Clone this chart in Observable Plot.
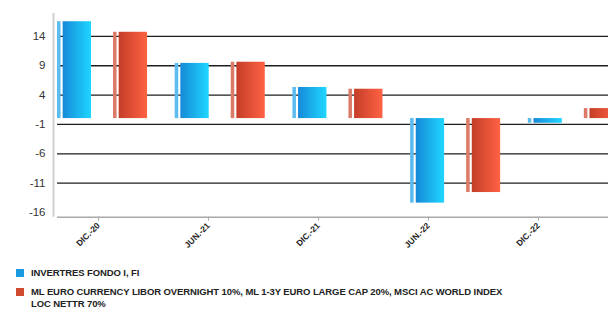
<!DOCTYPE html>
<html>
<head>
<meta charset="utf-8">
<script src="https://cdn.jsdelivr.net/npm/d3@7"></script>
<script src="https://cdn.jsdelivr.net/npm/@observablehq/plot@0.6"></script>
<style>
  html, body { margin: 0; padding: 0; background: #fff; overflow: hidden; width: 608px; height: 309px; }
  #chart svg { display: block; max-width: none; }
  .legend { margin: 7px 0 0 16px; font-family: "Liberation Sans", Arial, sans-serif; font-weight: bold; font-size: 9.5px; color: #222; letter-spacing: -0.1px; }
  .item { display: flex; align-items: flex-start; margin-bottom: 9px; }
  .sw { width: 8px; height: 8px; flex: none; margin-right: 7px; margin-top: 0px; }
  .lab { width: 475px; line-height: 12px; margin-top: -2px; }
</style>
</head>
<body>
<div id="chart"></div>
<div class="legend" id="legend"></div>
<script>
// ---- data ----
const dates = ["DIC.-20", "JUN.-21", "DIC.-21", "JUN.-22", "DIC.-22"];
const fondo = [16.5, 9.4, 5.3, -14.4, -0.8];
const indice = [14.7, 9.6, 5.0, -12.6, 1.7];
const seriesNames = [
  "INVERTRES FONDO I, FI",
  "ML EURO CURRENCY LIBOR OVERNIGHT 10%, ML 1-3Y EURO LARGE CAP 20%, MSCI AC WORLD INDEX LOC NETTR 70%"
];
const yTicks = [14, 9, 4, -1, -6, -11, -16];

// ---- layout ----
const W = 608, H = 262;
const yDomain = [-16.8, 17.9];
const barOff = [0.034, 0.51];   // start of each series bar within a group slot
const stripW = 0.03, gapW = 0.048, barW = 0.289;
const tickStart = 0.382, tickStep = 0.9346;
const gradIds = ["gBlue", "gRed"];
const stripCols = ["#5cbcf0", "#dc7a68"];
const swatchCols = ["#1a9ae0", "#d04a30"];

const rows = [];
dates.forEach((d, i) => {
  rows.push({i, s: 0, date: d, value: fondo[i]});
  rows.push({i, s: 1, date: d, value: indice[i]});
});
const xTicks = dates.map((d, k) => tickStart + tickStep * k);
const tickLabel = new Map(xTicks.map((t, k) => [t, dates[k]]));

const plot = Plot.plot({
  width: W,
  height: H,
  marginTop: 13,
  marginBottom: H - 216.7,
  marginLeft: 53,
  marginRight: 0,
  style: {fontFamily: "'Liberation Sans', Arial, sans-serif", background: "#fff", overflow: "hidden"},
  x: {type: "linear", domain: [0, 5], range: [53, 53 + 5 * 117.7], axis: null},
  y: {domain: yDomain, axis: null},
  marks: [
    Plot.ruleY(yTicks.slice(0, -1), {x1: barOff[0], x2: 5, stroke: "#1e1e1e", strokeWidth: 1.3}),
    // thin highlight strip
    Plot.rectY(rows, {
      x1: d => d.i + barOff[d.s],
      x2: d => d.i + barOff[d.s] + stripW,
      y: "value",
      fill: d => stripCols[d.s]
    }),
    // main bar
    Plot.rectY(rows, {
      x1: d => d.i + barOff[d.s] + gapW,
      x2: d => d.i + barOff[d.s] + barW,
      y: "value",
      fill: d => `url(#${gradIds[d.s]})`
    }),
    Plot.ruleX([0], {y1: yDomain[0], y2: yDomain[1], stroke: "#cfcfcf", strokeWidth: 2}),
    Plot.ruleY([yDomain[0]], {x1: barOff[0], x2: 5, stroke: "#a8a8a8", strokeWidth: 1.5}),
    Plot.axisY(yTicks, {
      tickSize: 0, tickPadding: 8, fontSize: 11.5, fill: "#333", label: null,
      tickFormat: d => String(d)
    }),
    Plot.axisX(xTicks, {
      y: yDomain[0],
      tickSize: 4, stroke: "#aaa", tickPadding: 3,
      tickRotate: -45, fontSize: 8.5, fontWeight: "bold", fill: "#222",
      tickFormat: t => tickLabel.get(t), label: null
    })
  ]
});

// gradients for the bars
const svg = d3.select(plot);
const defs = svg.insert("defs", ":first-child");
const grads = [["gBlue", "#1789d8", "#1fd6ff"], ["gRed", "#c43e28", "#ff6244"]];
for (const [id, c0, c1] of grads) {
  const g = defs.append("linearGradient").attr("id", id).attr("x1", "0").attr("x2", "1").attr("y1", "0").attr("y2", "0");
  g.append("stop").attr("offset", "0%").attr("stop-color", c0);
  g.append("stop").attr("offset", "100%").attr("stop-color", c1);
}
document.getElementById("chart").appendChild(plot);

// legend
const leg = d3.select("#legend");
seriesNames.forEach((name, k) => {
  const it = leg.append("div").attr("class", "item");
  it.append("div").attr("class", "sw").style("background", swatchCols[k]);
  it.append("div").attr("class", "lab").text(name);
});
</script>
</body>
</html>
